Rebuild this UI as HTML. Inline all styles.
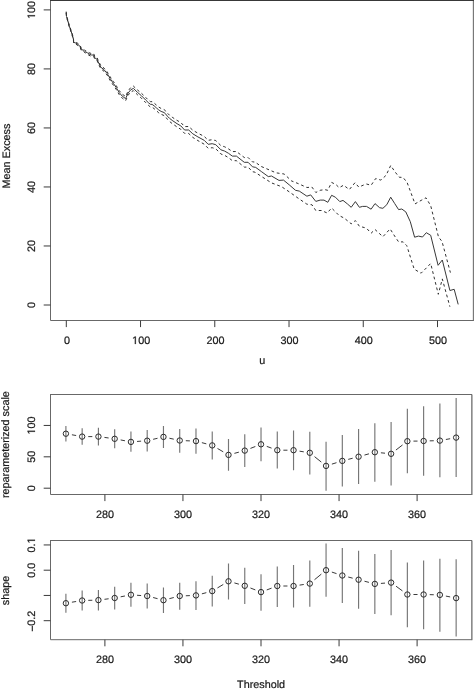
<!DOCTYPE html>
<html><head><meta charset="utf-8"><style>
html,body{margin:0;padding:0;background:#fff;width:474px;height:689px;overflow:hidden}
svg{display:block;will-change:transform} text,.g1{text-rendering:geometricPrecision;fill:#1a1a1a;stroke:#1a1a1a;stroke-width:0.22px} .g1{stroke-width:42px}
</style></head><body>
<svg width="474" height="689" viewBox="0 0 474 689" font-family='"Liberation Sans", sans-serif' font-size="10.8">
<rect width="474" height="689" fill="#fff"/>
<path d="M50.5,0.5V320.5H473.5" fill="none" stroke="#686868" stroke-width="1"/>
<path d="M473.35,321.0V0.5" fill="none" stroke="#606060" stroke-width="1"/>
<path d="M50.0,0.5H474.0" fill="none" stroke="#383838" stroke-width="1"/>
<polyline points="66.2,12.4 66.5,16.4 67.8,20.7 69.3,26.2 71.1,31.2 72.9,37.0 73.5,39.8 73.6,42.3 75.7,43.0 77.9,44.5 80.1,46.4 81.4,49.6 83.6,50.2 85.2,51.8 87.4,52.8 89.0,54.0 91.5,55.0 93.7,55.0 94.7,57.8 97.2,59.4 98.2,62.0 100.8,67.2 104.0,69.7 107.2,73.5 110.0,78.4 113.4,83.4 116.3,87.7 119.3,92.7 122.2,96.1 125.6,98.6 128.1,93.1 130.7,89.8 133.4,88.4 137.3,92.2 141.5,95.8 145.7,100.0 148.3,102.6 150.4,104.3 152.1,104.4 154.2,105.9 156.3,107.8 158.7,109.9 161.1,111.4 164.0,112.5 165.8,114.1 167.4,116.2 169.5,118.3 172.2,120.4 175.0,122.3 177.0,123.7 180.8,125.9 184.6,130.0 188.7,130.0 192.8,133.8 197.9,136.9 204.2,140.3 208.2,144.3 212.2,143.7 215.8,144.7 220.9,149.8 224.7,151.1 228.5,153.3 232.3,156.1 236.4,156.1 244.3,162.3 248.1,162.3 252.5,166.8 255.7,167.4 261.3,171.5 268.3,176.6 271.5,176.0 279.0,180.4 283.5,180.1 289.2,184.8 295.5,190.3 299.3,191.1 306.9,196.2 310.7,194.9 315.8,201.4 320.2,200.1 324.0,200.1 327.8,202.3 331.6,195.3 335.4,197.2 339.8,201.6 343.0,200.4 347.4,203.9 351.2,207.3 355.4,201.6 359.4,207.3 362.6,206.4 366.5,206.4 371.1,209.2 375.0,203.6 379.6,207.7 382.9,208.3 386.8,204.7 390.7,197.2 394.6,203.4 398.6,209.6 401.8,209.0 405.8,211.9 410.3,221.7 414.6,237.2 418.5,236.1 422.5,237.0 426.3,232.7 430.7,235.3 438.1,265.3 442.3,260.0 449.9,290.5 454.2,289.3 458.2,304.4" fill="none" stroke="#383838" stroke-width="1" stroke-linejoin="round"/>
<polyline points="66.2,11.6 66.5,15.6 67.8,19.9 69.3,25.3 71.1,30.3 72.9,36.0 73.5,38.8 73.6,41.3 75.7,42.0 77.9,43.4 80.1,45.3 81.4,48.5 83.6,49.0 85.2,50.6 87.4,51.5 89.0,52.7 91.5,53.6 93.7,53.6 94.7,56.4 97.2,57.9 98.2,60.5 100.8,65.6 104.0,68.1 107.2,71.8 110.0,76.6 113.4,81.5 116.3,85.8 119.3,90.7 122.2,94.1 125.6,96.5 128.1,90.9 130.7,87.6 133.4,86.1 137.3,89.8 141.5,93.3 145.7,97.4 148.3,100.0 150.4,101.6 152.1,101.7 154.2,103.1 156.3,105.0 158.7,107.0 161.1,108.5 164.0,109.5 165.8,111.1 167.4,113.1 169.5,115.2 172.2,117.2 175.0,119.1 177.0,120.4 180.8,122.5 184.6,126.6 188.7,126.5 192.8,130.2 197.9,133.2 204.2,136.4 208.2,140.3 212.2,139.7 215.8,140.6 220.9,145.6 224.7,146.8 228.5,148.9 232.3,151.6 236.4,151.5 244.3,157.5 248.1,157.5 252.5,161.9 255.0,162.0 261.3,166.5 270.2,170.3 275.9,172.8 284.1,174.0 291.7,181.0 298.0,183.5 306.9,187.5 312.0,187.1 315.8,192.5 320.2,190.3 324.6,189.6 327.8,190.3 331.6,182.4 336.0,184.6 339.2,187.7 343.6,185.2 349.3,189.6 355.0,182.7 358.8,187.1 363.2,185.2 366.5,184.0 371.1,185.3 375.7,178.5 380.9,180.1 386.1,175.3 390.7,165.5 394.6,171.3 399.2,177.2 403.1,177.5 407.1,182.5 411.0,192.9 415.0,203.9 421.1,200.4 426.0,197.8 430.7,205.7 438.5,237.0 442.0,241.4 450.4,272.6" fill="none" stroke="#303030" stroke-width="1" stroke-dasharray="2.8,2.8"/>
<polyline points="66.2,13.2 66.5,17.2 67.8,21.5 69.3,27.1 71.1,32.1 72.9,38.0 73.5,40.8 73.6,43.3 75.7,44.0 77.9,45.6 80.1,47.5 81.4,50.7 83.6,51.4 85.2,53.0 87.4,54.1 89.0,55.3 91.5,56.4 93.7,56.4 94.7,59.2 97.2,60.9 98.2,63.5 100.8,68.8 104.0,71.3 107.2,75.2 110.0,80.2 113.4,85.3 116.3,89.6 119.3,94.7 122.2,98.1 125.6,100.7 128.1,95.3 130.7,92.0 133.4,90.7 137.3,94.6 141.5,98.3 145.7,102.6 148.3,105.2 150.4,107.0 152.1,107.1 154.2,108.7 156.3,110.6 158.7,112.8 161.1,114.3 164.0,115.5 165.8,117.1 167.4,119.3 169.5,121.4 172.2,123.6 175.0,125.5 177.0,127.0 180.8,129.3 184.6,133.4 188.7,133.5 192.8,137.4 197.9,140.6 204.2,144.2 208.2,148.3 212.2,147.7 215.8,148.8 220.9,154.0 224.7,155.4 228.5,157.7 232.3,160.6 236.4,160.7 244.3,167.1 248.1,167.1 252.5,171.7 255.0,172.2 262.6,177.2 271.5,182.9 281.6,186.7 289.2,191.8 298.0,198.1 306.9,204.2 312.0,204.8 315.8,210.5 321.5,210.5 327.2,213.0 331.6,208.0 339.2,215.6 344.2,218.1 351.2,223.8 355.4,220.6 359.4,226.3 364.5,227.6 366.5,228.2 371.1,233.2 375.0,229.5 382.9,236.7 390.1,228.9 394.6,236.0 398.6,241.9 403.1,241.9 406.8,245.7 414.2,269.2 421.1,273.2 426.3,268.0 430.7,263.5 438.3,294.3 442.3,278.9 449.9,306.7" fill="none" stroke="#303030" stroke-width="1" stroke-dasharray="2.8,2.8"/>
<path d="M43.7,305.00H50.5" stroke="#3a3a3a" stroke-width="1"/>
<g transform="translate(35.00,305.00) rotate(-90)"><text x="-3.003" y="0">0</text></g>
<path d="M43.7,245.98H50.5" stroke="#3a3a3a" stroke-width="1"/>
<g transform="translate(35.00,245.98) rotate(-90)"><text x="-6.006" y="0">2</text><text x="0.000" y="0">0</text></g>
<path d="M43.7,186.96H50.5" stroke="#3a3a3a" stroke-width="1"/>
<g transform="translate(35.00,186.96) rotate(-90)"><text x="-6.006" y="0">4</text><text x="0.000" y="0">0</text></g>
<path d="M43.7,127.94H50.5" stroke="#3a3a3a" stroke-width="1"/>
<g transform="translate(35.00,127.94) rotate(-90)"><text x="-6.006" y="0">6</text><text x="0.000" y="0">0</text></g>
<path d="M43.7,68.92H50.5" stroke="#3a3a3a" stroke-width="1"/>
<g transform="translate(35.00,68.92) rotate(-90)"><text x="-6.006" y="0">8</text><text x="0.000" y="0">0</text></g>
<path d="M43.7,9.90H50.5" stroke="#3a3a3a" stroke-width="1"/>
<g transform="translate(35.00,9.90) rotate(-90)"><path d="M515,0L515,1237L197,1010L197,1180L530,1409L696,1409L696,0Z" transform="translate(-9.010,0) scale(0.005273,-0.005273)" class="g1"/><text x="-3.003" y="0">0</text><text x="3.003" y="0">0</text></g>
<path d="M66.30,320.5V327.10" stroke="#3a3a3a" stroke-width="1"/>
<g transform="translate(66.90,344.00)"><text x="-3.003" y="0">0</text></g>
<path d="M140.54,320.5V327.10" stroke="#3a3a3a" stroke-width="1"/>
<g transform="translate(141.14,344.00)"><path d="M515,0L515,1237L197,1010L197,1180L530,1409L696,1409L696,0Z" transform="translate(-9.010,0) scale(0.005273,-0.005273)" class="g1"/><text x="-3.003" y="0">0</text><text x="3.003" y="0">0</text></g>
<path d="M214.78,320.5V327.10" stroke="#3a3a3a" stroke-width="1"/>
<g transform="translate(215.38,344.00)"><text x="-9.010" y="0">2</text><text x="-3.003" y="0">0</text><text x="3.003" y="0">0</text></g>
<path d="M289.02,320.5V327.10" stroke="#3a3a3a" stroke-width="1"/>
<g transform="translate(289.62,344.00)"><text x="-9.010" y="0">3</text><text x="-3.003" y="0">0</text><text x="3.003" y="0">0</text></g>
<path d="M363.26,320.5V327.10" stroke="#3a3a3a" stroke-width="1"/>
<g transform="translate(363.86,344.00)"><text x="-9.010" y="0">4</text><text x="-3.003" y="0">0</text><text x="3.003" y="0">0</text></g>
<path d="M437.50,320.5V327.10" stroke="#3a3a3a" stroke-width="1"/>
<g transform="translate(438.10,344.00)"><text x="-9.010" y="0">5</text><text x="-3.003" y="0">0</text><text x="3.003" y="0">0</text></g>
<text x="262.2" y="364.3" text-anchor="middle">u</text>
<text x="9.9" y="156" transform="rotate(-90 9.9 156)" text-anchor="middle">Mean Excess</text>
<path d="M50.5,394.5V494.5H471.5" fill="none" stroke="#686868" stroke-width="1"/>
<path d="M471.9,495.0V394.5" fill="none" stroke="#404040" stroke-width="1"/>
<path d="M50.0,394.5H472.0" fill="none" stroke="#686868" stroke-width="1"/>
<path d="M65.90,426.00V441.50M82.16,428.20V444.70M98.42,427.80V445.50M114.68,429.30V448.20M130.94,431.40V451.80M147.20,430.00V451.60M163.46,426.00V447.90M179.72,428.90V452.70M195.98,428.50V453.80M212.24,431.60V459.50M228.50,439.00V470.70M244.76,434.20V467.10M261.02,427.40V461.20M277.28,431.60V468.60M293.54,430.60V470.30M309.80,431.70V474.40M326.06,441.70V490.80M342.32,434.90V486.60M358.58,429.00V483.90M374.84,423.30V481.80M391.10,422.10V485.50M407.36,408.80V473.30M423.62,406.30V475.70M439.88,403.50V477.20M456.14,397.90V476.90" stroke="#767676" stroke-width="1.15" fill="none"/>
<path d="M71.91,434.77L76.15,435.53M88.26,436.60L92.32,436.60M104.46,437.42L108.64,437.98M120.67,439.94L124.95,440.76M137.02,441.45L141.12,441.15M153.14,439.31L157.52,438.29M169.42,438.22L173.76,439.18M185.82,440.72L189.88,440.88M201.88,442.66L206.34,443.84M217.51,448.48L223.23,451.82M234.40,453.34L238.86,452.16M250.45,448.40L255.33,446.50M266.75,446.38L271.55,448.12M283.38,450.20L287.44,450.20M299.56,451.16L303.78,451.84M314.55,456.63L321.31,462.07M331.89,464.11L336.49,462.69M348.23,459.37L352.67,458.23M364.46,455.07L368.96,453.83M380.91,452.80L385.03,453.20M395.92,450.06L402.54,444.94M413.46,441.12L417.52,441.08M429.72,440.85L433.78,440.75M445.88,439.49L450.14,438.71" stroke="#3a3a3a" stroke-width="1" fill="none"/>
<circle cx="65.90" cy="433.70" r="2.7" fill="none" stroke="#2a2a2a" stroke-width="1"/>
<circle cx="82.16" cy="436.60" r="2.7" fill="none" stroke="#2a2a2a" stroke-width="1"/>
<circle cx="98.42" cy="436.60" r="2.7" fill="none" stroke="#2a2a2a" stroke-width="1"/>
<circle cx="114.68" cy="438.80" r="2.7" fill="none" stroke="#2a2a2a" stroke-width="1"/>
<circle cx="130.94" cy="441.90" r="2.7" fill="none" stroke="#2a2a2a" stroke-width="1"/>
<circle cx="147.20" cy="440.70" r="2.7" fill="none" stroke="#2a2a2a" stroke-width="1"/>
<circle cx="163.46" cy="436.90" r="2.7" fill="none" stroke="#2a2a2a" stroke-width="1"/>
<circle cx="179.72" cy="440.50" r="2.7" fill="none" stroke="#2a2a2a" stroke-width="1"/>
<circle cx="195.98" cy="441.10" r="2.7" fill="none" stroke="#2a2a2a" stroke-width="1"/>
<circle cx="212.24" cy="445.40" r="2.7" fill="none" stroke="#2a2a2a" stroke-width="1"/>
<circle cx="228.50" cy="454.90" r="2.7" fill="none" stroke="#2a2a2a" stroke-width="1"/>
<circle cx="244.76" cy="450.60" r="2.7" fill="none" stroke="#2a2a2a" stroke-width="1"/>
<circle cx="261.02" cy="444.30" r="2.7" fill="none" stroke="#2a2a2a" stroke-width="1"/>
<circle cx="277.28" cy="450.20" r="2.7" fill="none" stroke="#2a2a2a" stroke-width="1"/>
<circle cx="293.54" cy="450.20" r="2.7" fill="none" stroke="#2a2a2a" stroke-width="1"/>
<circle cx="309.80" cy="452.80" r="2.7" fill="none" stroke="#2a2a2a" stroke-width="1"/>
<circle cx="326.06" cy="465.90" r="2.7" fill="none" stroke="#2a2a2a" stroke-width="1"/>
<circle cx="342.32" cy="460.90" r="2.7" fill="none" stroke="#2a2a2a" stroke-width="1"/>
<circle cx="358.58" cy="456.70" r="2.7" fill="none" stroke="#2a2a2a" stroke-width="1"/>
<circle cx="374.84" cy="452.20" r="2.7" fill="none" stroke="#2a2a2a" stroke-width="1"/>
<circle cx="391.10" cy="453.80" r="2.7" fill="none" stroke="#2a2a2a" stroke-width="1"/>
<circle cx="407.36" cy="441.20" r="2.7" fill="none" stroke="#2a2a2a" stroke-width="1"/>
<circle cx="423.62" cy="441.00" r="2.7" fill="none" stroke="#2a2a2a" stroke-width="1"/>
<circle cx="439.88" cy="440.60" r="2.7" fill="none" stroke="#2a2a2a" stroke-width="1"/>
<circle cx="456.14" cy="437.60" r="2.7" fill="none" stroke="#2a2a2a" stroke-width="1"/>
<path d="M43.7,488.20H50.5" stroke="#3a3a3a" stroke-width="1"/>
<g transform="translate(35.00,488.20) rotate(-90)"><text x="-3.003" y="0">0</text></g>
<path d="M43.7,456.82H50.5" stroke="#3a3a3a" stroke-width="1"/>
<g transform="translate(35.00,456.82) rotate(-90)"><text x="-6.006" y="0">5</text><text x="0.000" y="0">0</text></g>
<path d="M43.7,425.44H50.5" stroke="#3a3a3a" stroke-width="1"/>
<g transform="translate(35.00,425.44) rotate(-90)"><path d="M515,0L515,1237L197,1010L197,1180L530,1409L696,1409L696,0Z" transform="translate(-9.010,0) scale(0.005273,-0.005273)" class="g1"/><text x="-3.003" y="0">0</text><text x="3.003" y="0">0</text></g>
<path d="M104.90,494.5V501.10" stroke="#3a3a3a" stroke-width="1"/>
<g transform="translate(104.90,517.70)"><text x="-9.010" y="0">2</text><text x="-3.003" y="0">8</text><text x="3.003" y="0">0</text></g>
<path d="M182.95,494.5V501.10" stroke="#3a3a3a" stroke-width="1"/>
<g transform="translate(182.95,517.70)"><text x="-9.010" y="0">3</text><text x="-3.003" y="0">0</text><text x="3.003" y="0">0</text></g>
<path d="M261.00,494.5V501.10" stroke="#3a3a3a" stroke-width="1"/>
<g transform="translate(261.00,517.70)"><text x="-9.010" y="0">3</text><text x="-3.003" y="0">2</text><text x="3.003" y="0">0</text></g>
<path d="M339.05,494.5V501.10" stroke="#3a3a3a" stroke-width="1"/>
<g transform="translate(339.05,517.70)"><text x="-9.010" y="0">3</text><text x="-3.003" y="0">4</text><text x="3.003" y="0">0</text></g>
<path d="M417.10,494.5V501.10" stroke="#3a3a3a" stroke-width="1"/>
<g transform="translate(417.10,517.70)"><text x="-9.010" y="0">3</text><text x="-3.003" y="0">6</text><text x="3.003" y="0">0</text></g>
<text x="8.9" y="444.6" transform="rotate(-90 8.9 444.6)" text-anchor="middle">reparameterized scale</text>
<path d="M50.5,540.5V639.7H471.5" fill="none" stroke="#686868" stroke-width="1"/>
<path d="M471.9,640.2V540.5" fill="none" stroke="#404040" stroke-width="1"/>
<path d="M50.0,540.5H472.0" fill="none" stroke="#686868" stroke-width="1"/>
<path d="M65.90,593.80V612.70M82.16,590.60V610.60M98.42,590.00V610.60M114.68,586.80V609.60M130.94,582.80V606.80M147.20,583.40V608.50M163.46,587.60V612.90M179.72,582.70V609.70M195.98,581.20V610.10M212.24,575.70V606.50M228.50,563.60V599.50M244.76,567.80V603.90M261.02,574.20V610.70M277.28,566.40V606.90M293.54,564.90V607.50M309.80,560.50V606.80M326.06,543.40V596.80M342.32,548.10V603.10M358.58,550.80V608.80M374.84,554.00V614.10M391.10,550.00V615.30M407.36,562.40V627.20M423.62,560.40V629.20M439.88,558.80V631.80M456.14,559.20V636.50" stroke="#767676" stroke-width="1.15" fill="none"/>
<path d="M71.92,602.20L76.14,601.50M88.26,600.35L92.32,600.25M104.47,599.32L108.63,598.78M120.67,596.82L124.95,595.98M137.02,595.25L141.12,595.55M153.11,597.53L157.55,598.67M169.37,598.67L173.81,597.53M185.82,595.78L189.88,595.62M201.88,593.84L206.34,592.66M217.46,587.95L223.28,584.45M234.38,582.93L238.88,584.17M250.45,588.00L255.33,589.90M266.73,589.96L271.57,588.14M283.38,586.00L287.44,586.00M299.57,585.11L303.77,584.49M314.51,579.72L321.35,574.08M331.86,572.09L336.52,573.61M348.23,577.03L352.67,578.17M364.49,581.23L368.93,582.37M380.92,583.41L385.02,583.09M396.02,586.20L402.44,590.90M413.46,594.50L417.52,594.50M429.72,594.65L433.78,594.75M445.87,596.08L450.15,596.92" stroke="#3a3a3a" stroke-width="1" fill="none"/>
<circle cx="65.90" cy="603.20" r="2.7" fill="none" stroke="#2a2a2a" stroke-width="1"/>
<circle cx="82.16" cy="600.50" r="2.7" fill="none" stroke="#2a2a2a" stroke-width="1"/>
<circle cx="98.42" cy="600.10" r="2.7" fill="none" stroke="#2a2a2a" stroke-width="1"/>
<circle cx="114.68" cy="598.00" r="2.7" fill="none" stroke="#2a2a2a" stroke-width="1"/>
<circle cx="130.94" cy="594.80" r="2.7" fill="none" stroke="#2a2a2a" stroke-width="1"/>
<circle cx="147.20" cy="596.00" r="2.7" fill="none" stroke="#2a2a2a" stroke-width="1"/>
<circle cx="163.46" cy="600.20" r="2.7" fill="none" stroke="#2a2a2a" stroke-width="1"/>
<circle cx="179.72" cy="596.00" r="2.7" fill="none" stroke="#2a2a2a" stroke-width="1"/>
<circle cx="195.98" cy="595.40" r="2.7" fill="none" stroke="#2a2a2a" stroke-width="1"/>
<circle cx="212.24" cy="591.10" r="2.7" fill="none" stroke="#2a2a2a" stroke-width="1"/>
<circle cx="228.50" cy="581.30" r="2.7" fill="none" stroke="#2a2a2a" stroke-width="1"/>
<circle cx="244.76" cy="585.80" r="2.7" fill="none" stroke="#2a2a2a" stroke-width="1"/>
<circle cx="261.02" cy="592.10" r="2.7" fill="none" stroke="#2a2a2a" stroke-width="1"/>
<circle cx="277.28" cy="586.00" r="2.7" fill="none" stroke="#2a2a2a" stroke-width="1"/>
<circle cx="293.54" cy="586.00" r="2.7" fill="none" stroke="#2a2a2a" stroke-width="1"/>
<circle cx="309.80" cy="583.60" r="2.7" fill="none" stroke="#2a2a2a" stroke-width="1"/>
<circle cx="326.06" cy="570.20" r="2.7" fill="none" stroke="#2a2a2a" stroke-width="1"/>
<circle cx="342.32" cy="575.50" r="2.7" fill="none" stroke="#2a2a2a" stroke-width="1"/>
<circle cx="358.58" cy="579.70" r="2.7" fill="none" stroke="#2a2a2a" stroke-width="1"/>
<circle cx="374.84" cy="583.90" r="2.7" fill="none" stroke="#2a2a2a" stroke-width="1"/>
<circle cx="391.10" cy="582.60" r="2.7" fill="none" stroke="#2a2a2a" stroke-width="1"/>
<circle cx="407.36" cy="594.50" r="2.7" fill="none" stroke="#2a2a2a" stroke-width="1"/>
<circle cx="423.62" cy="594.50" r="2.7" fill="none" stroke="#2a2a2a" stroke-width="1"/>
<circle cx="439.88" cy="594.90" r="2.7" fill="none" stroke="#2a2a2a" stroke-width="1"/>
<circle cx="456.14" cy="598.10" r="2.7" fill="none" stroke="#2a2a2a" stroke-width="1"/>
<path d="M43.7,544.94H50.5" stroke="#3a3a3a" stroke-width="1"/>
<g transform="translate(35.00,544.94) rotate(-90)"><text x="-7.507" y="0">0</text><text x="-1.500" y="0">.</text><path d="M515,0L515,1237L197,1010L197,1180L530,1409L696,1409L696,0Z" transform="translate(1.500,0) scale(0.005273,-0.005273)" class="g1"/></g>
<path d="M43.7,570.19H50.5" stroke="#3a3a3a" stroke-width="1"/>
<g transform="translate(35.00,570.19) rotate(-90)"><text x="-7.507" y="0">0</text><text x="-1.500" y="0">.</text><text x="1.500" y="0">0</text></g>
<path d="M43.7,595.44H50.5" stroke="#3a3a3a" stroke-width="1"/>
<path d="M43.7,620.69H50.5" stroke="#3a3a3a" stroke-width="1"/>
<path d="M104.90,639.7V646.30" stroke="#3a3a3a" stroke-width="1"/>
<g transform="translate(104.90,663.10)"><text x="-9.010" y="0">2</text><text x="-3.003" y="0">8</text><text x="3.003" y="0">0</text></g>
<path d="M182.95,639.7V646.30" stroke="#3a3a3a" stroke-width="1"/>
<g transform="translate(182.95,663.10)"><text x="-9.010" y="0">3</text><text x="-3.003" y="0">0</text><text x="3.003" y="0">0</text></g>
<path d="M261.00,639.7V646.30" stroke="#3a3a3a" stroke-width="1"/>
<g transform="translate(261.00,663.10)"><text x="-9.010" y="0">3</text><text x="-3.003" y="0">2</text><text x="3.003" y="0">0</text></g>
<path d="M339.05,639.7V646.30" stroke="#3a3a3a" stroke-width="1"/>
<g transform="translate(339.05,663.10)"><text x="-9.010" y="0">3</text><text x="-3.003" y="0">4</text><text x="3.003" y="0">0</text></g>
<path d="M417.10,639.7V646.30" stroke="#3a3a3a" stroke-width="1"/>
<g transform="translate(417.10,663.10)"><text x="-9.010" y="0">3</text><text x="-3.003" y="0">6</text><text x="3.003" y="0">0</text></g>
<text x="35" y="625.7" transform="rotate(-90 35 625.7)">0.2</text>
<path d="M32.3,631.3V626.0" stroke="#1a1a1a" stroke-width="1.1"/>
<text x="8.9" y="590.5" transform="rotate(-90 8.9 590.5)" text-anchor="middle">shape</text>
<text x="261.1" y="687.6" text-anchor="middle">Threshold</text>
</svg>
</body></html>
